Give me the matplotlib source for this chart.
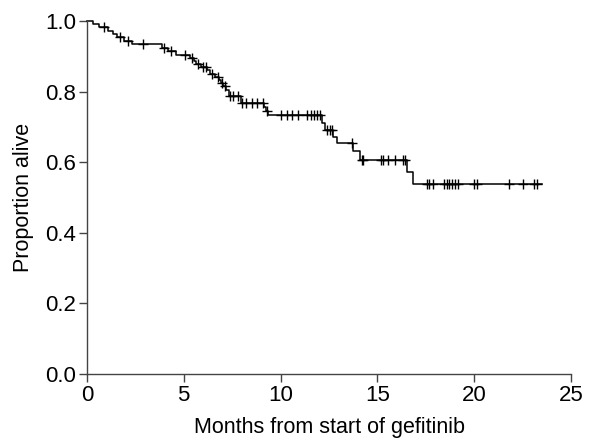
import matplotlib
matplotlib.use("Agg")
import matplotlib.pyplot as plt
import numpy as np

plt.rcParams['font.family'] = ['Liberation Sans', 'DejaVu Sans']

# Kaplan-Meier steps: time of drop (months), survival after drop
event_t = [0.0, 0.3, 0.65, 1.1, 1.35, 1.55, 1.9, 2.35, 3.9, 4.2, 4.6, 5.3, 5.55, 5.65,
           5.9, 6.2, 6.35, 6.6, 6.8, 6.9, 7.05, 7.2, 7.32, 7.95, 7.97, 9.14, 9.25, 9.35,
           12.15, 12.3, 12.7, 12.91, 13.72, 14.08, 16.55, 16.82]
surv = [1.0, 0.991, 0.982, 0.973, 0.964, 0.955, 0.945, 0.934, 0.923, 0.914, 0.905, 0.896,
        0.887, 0.878, 0.869, 0.860, 0.851, 0.842, 0.833, 0.824, 0.815, 0.805, 0.788, 0.778,
        0.767, 0.755, 0.745, 0.733, 0.711, 0.690, 0.670, 0.653, 0.632, 0.607, 0.571, 0.537]
end_t = 23.5

# censored observations (months)
censor_t = [0.9, 1.7, 2.1, 2.9, 3.98, 4.34, 5.06, 5.42, 5.73, 5.99, 6.14, 6.45, 6.76,
            6.97, 7.12, 7.39, 7.54, 7.8, 8.0, 8.2, 8.5, 8.8, 9.1, 9.3, 10.02, 10.33, 10.59,
            10.9, 11.36, 11.57, 11.73, 11.88, 12.03, 12.4, 12.55, 12.66, 13.69, 14.2, 14.26,
            15.2, 15.3, 15.55, 15.9, 16.3, 16.4, 17.56, 17.67, 17.87, 18.44, 18.6, 18.7,
            18.85, 19.0, 19.16, 19.99, 20.14, 21.8, 22.52, 23.09, 23.24]

fig = plt.figure(figsize=(5.95, 4.4), dpi=100)
ax = fig.add_axes([0.146, 0.151, 0.814, 0.801])

xs = event_t + [end_t]
ys = surv + [surv[-1]]
ax.step(xs, ys, where='post', color='black', lw=1.1, clip_on=False)

idx = np.searchsorted(event_t, censor_t, side='right') - 1
cy = np.array(surv)[idx]
ax.plot(censor_t, cy, ls='none', marker='+', ms=6.5, mew=1.0, color='black', clip_on=False)

ax.set_xlim(0, 25)
ax.set_ylim(0, 1.0)
ax.set_xticks([0, 5, 10, 15, 20, 25])
ax.set_yticks([0.0, 0.2, 0.4, 0.6, 0.8, 1.0])
ax.set_yticklabels(['0.0', '0.2', '0.4', '0.6', '0.8', '1.0'])

for side in ['top', 'right']:
    ax.spines[side].set_visible(False)
for side in ['left', 'bottom']:
    ax.spines[side].set_color('#444444')
    ax.spines[side].set_linewidth(1.0)
ax.tick_params(direction='out', length=6, width=1.0, color='#444444',
               labelsize=16, pad=2)

ax.set_xlabel('Months from start of gefitinib', fontsize=15.5, labelpad=8)
ax.set_ylabel('Proportion alive', fontsize=15.5, labelpad=8)

fig.savefig('out.png', dpi=100)
